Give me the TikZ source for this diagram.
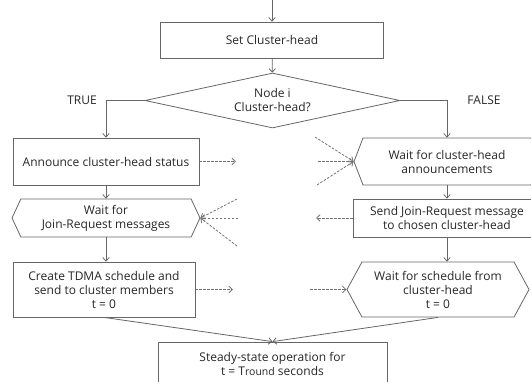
\documentclass[tikz,border=0pt]{standalone}
\usepackage{fontspec}
\setmainfont{Open Sans}
\usetikzlibrary{shapes.geometric,shapes.symbols,arrows.meta}

\begin{document}
\begin{tikzpicture}[x=1pt, y=-1pt,
	every node/.style={font=\fontsize{12}{14}\selectfont, text=black!85},
	flow/.style={draw=black!60, line width=0.8pt, -{Straight Barb[length=3.5pt,width=6.5pt]}},
	msg/.style={flow, draw=black!55, dash pattern=on 2.5pt off 1.5pt},
	box/.style={draw=black!60, line width=0.8pt, align=center, inner sep=2pt},
	hexa/.style={box, signal, signal to=west and east}]

\clip (0,0) rectangle (531,381);

\coordinate (start) at (272,0);
\node[box, minimum width=223, minimum height=36] (set) at (272,40) {Set Cluster-head};
\node[box, diamond, inner sep=1pt, aspect=4.6, minimum width=255, minimum height=55] (decide) at (272.5,100.5) {Node i\\Cluster-head?};

\node (true) at (82,100) {TRUE};
\node (false) at (484,100) {FALSE};

% cluster-head side
\node[box, minimum width=186, minimum height=47] (announce) at (106,161.5) {Announce cluster-head status};
\node[hexa, minimum width=188, minimum height=38, signal pointer angle=130] (joinwait) at (106,218) {Wait for\\Join-Request messages};
\node[box, minimum width=182, minimum height=55] (tdma) at (104,289.5) {Create TDMA schedule and\\send to cluster members\\t = 0};

% member side
\node[hexa, minimum width=186, minimum height=47, signal pointer angle=138] (listen) at (447,161.5) {Wait for cluster-head\\announcements};
\node[box, minimum width=188, minimum height=38] (joinreq) at (447,218) {Send Join-Request message\\to chosen cluster-head};
\node[hexa, minimum width=182, minimum height=55, signal pointer angle=123] (schedwait) at (438,289.5) {Wait for schedule from\\cluster-head\\t = 0};

\node[box, minimum width=229, minimum height=44] (steady) at (272.5,364) {Steady-state operation for\\t = T{\fontsize{10.5}{14}\selectfont round} seconds};

\draw[flow] (start) -- (set);
\draw[flow] (set) -- (decide);
\draw[flow] (decide.west) -| (announce.north);
\draw[flow] (decide.east) -| (listen.north);
\draw[flow] (announce.south) -- (announce.south |- joinwait.north);
\draw[flow] (joinwait.south) -- (joinwait.south |- tdma.north);
\draw[flow] (listen.south) -- (listen.south |- joinreq.north);
\draw[flow] (joinreq.south) -- (joinreq.south |- schedwait.north);
\draw[flow] (tdma.south) -- (steady.north);
\draw[flow] (schedwait.south) -- (steady.north);

% messages between the two sides
\coordinate (annout) at (236,161.5);
\coordinate (hear1) at (315,137);
\coordinate (hear2) at (318,161.5);
\coordinate (hear3) at (317,185);
\coordinate (req1) at (237,199);
\coordinate (req2) at (238,218);
\coordinate (req3) at (237,246);
\coordinate (reqout) at (316,218);
\coordinate (schout) at (233,289.5);
\coordinate (schin) at (310,289.5);

\draw[msg] (announce.east) -- (annout);
\foreach \c in {hear1,hear2,hear3}
	\draw[msg] (\c) -- (listen.west);
\foreach \c in {req1,req2,req3}
	\draw[msg] (\c) -- (joinwait.east);
\draw[msg] (joinreq.west) -- (reqout);
\draw[msg] (tdma.east) -- (schout);
\draw[msg] (schin) -- (schedwait.west);

\end{tikzpicture}
\end{document}
